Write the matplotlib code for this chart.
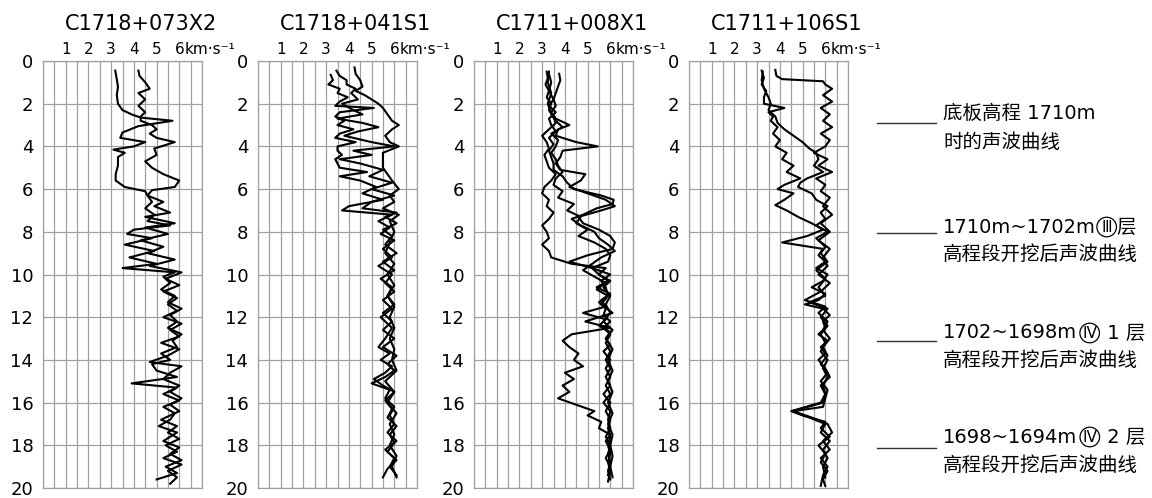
import numpy as np
import matplotlib.pyplot as plt
import matplotlib.transforms as mtransforms
from matplotlib.lines import Line2D

plt.rcParams['font.family'] = ['DejaVu Sans', 'Noto Sans CJK SC']

titles = ['C1718+073X2', 'C1718+041S1', 'C1711+008X1', 'C1711+106S1']
x_ticks = [1, 2, 3, 4, 5, 6]
y_ticks = [0, 2, 4, 6, 8, 10, 12, 14, 16, 18, 20]

# 孔 C1718+073X2
p1_d1 = [0.45, 0.8, 1.2, 1.6, 2.0, 2.3, 2.5, 2.65, 2.8, 3.05, 3.35, 3.6, 3.8, 4.0, 4.15, 4.3, 4.5, 4.9, 5.3, 5.6,
         5.9, 6.1, 6.3, 6.6, 6.9, 7.2, 7.5, 7.7, 7.9, 8.1, 8.3, 8.6, 8.9, 9.2, 9.5, 9.7, 9.9, 10.1, 10.4, 10.7,
         11.0, 11.3, 11.6, 11.9, 12.2, 12.5, 12.8, 13.1, 13.4, 13.7, 14.0, 14.2, 14.5, 14.8, 15.1, 15.3, 15.6,
         15.9, 16.2, 16.5, 16.8, 17.1, 17.4, 17.8, 18.1, 18.4, 18.7, 19.0, 19.3, 19.6]
p1_v1 = [3.18, 3.24, 3.3, 3.25, 3.3, 3.5, 3.9, 4.3, 5.7, 4.2, 3.5, 3.4, 4.5, 4.0, 3.1, 3.6, 3.3, 3.3, 3.2, 3.2,
         3.6, 4.5, 4.6, 4.8, 4.5, 4.9, 4.6, 5.6, 4.0, 3.7, 4.8, 3.6, 4.9, 3.8, 5.0, 3.5, 5.8, 5.3, 5.6, 5.2,
         5.8, 5.5, 6.1, 5.6, 5.9, 5.5, 6.1, 5.7, 5.9, 5.2, 5.6, 4.8, 5.0, 5.9, 3.9, 5.9, 5.3,
         6.0, 5.3, 5.8, 5.6, 5.1, 5.9, 5.3, 6.0, 5.6, 6.1, 5.4, 5.9, 5.0]
p1_d2 = [0.45, 0.7, 1.0, 1.3, 1.5, 1.8, 2.1, 2.4, 2.6, 2.8, 3.0, 3.2, 3.4, 3.6, 3.8, 4.1, 4.4, 4.7, 5.0, 5.3,
         5.6, 5.9, 6.05, 6.3, 6.6, 6.8, 7.1, 7.3, 7.6, 7.8, 8.1, 8.4, 8.7, 9.0, 9.3, 9.6, 9.9, 10.2, 10.5, 10.8,
         11.1, 11.4, 11.7, 12.0, 12.3, 12.6, 12.9, 13.2, 13.5, 13.8, 14.1, 14.3, 14.6, 14.9, 15.2, 15.5, 15.8,
         16.1, 16.4, 16.8, 17.1, 17.4, 17.7, 18.0, 18.3, 18.6, 18.9, 19.2, 19.5, 19.8]
p1_v2 = [4.2, 4.25, 4.5, 4.7, 4.2, 4.5, 4.2, 4.5, 4.3, 4.3, 4.8, 5.0, 4.7, 5.0, 5.8, 4.9, 5.0, 4.5, 4.8, 5.3,
         6.0, 5.8, 4.8, 4.6, 5.3, 4.9, 5.6, 4.5, 5.8, 4.5, 5.5, 4.3, 5.3, 4.6, 5.8, 4.7, 6.1, 5.4, 6.0, 5.3,
         5.9, 5.5, 5.9, 5.3, 6.1, 5.6, 6.0, 5.2, 6.0, 5.5, 4.7, 6.1, 5.6, 5.3, 6.0, 5.6, 6.1,
         5.6, 6.0, 5.2, 5.9, 5.5, 6.0, 5.4, 5.9, 5.3, 6.1, 5.5, 5.9, 5.6]

# 孔 C1718+041S1
p2_d1 = [0.65, 0.9, 1.1, 1.3, 1.5, 1.7, 1.9, 2.1, 2.2, 2.4, 2.6, 2.8, 3.0, 3.2, 3.4, 3.6, 3.8, 4.0, 4.2, 4.4,
         4.6, 4.8, 5.0, 5.2, 5.4, 5.6, 5.9, 6.2, 6.5, 6.8, 7.0, 7.2, 7.5, 7.8, 8.1, 8.4, 8.8, 9.2, 9.6, 10.0,
         10.4, 10.8, 11.2, 11.6, 12.0, 12.5, 13.0, 13.4, 13.7, 14.0, 14.3, 14.6, 14.9, 15.2, 15.5, 15.9, 16.3,
         16.7, 17.1, 17.5, 17.9, 18.3, 18.7, 19.1, 19.5]
p2_v1 = [3.2, 3.3, 3.1, 3.6, 3.5, 3.95, 3.6, 3.4, 5.1, 3.6, 3.4, 3.8, 3.5, 4.2, 3.6, 3.4, 4.3, 3.5, 3.5, 3.7,
         3.4, 3.5, 3.6, 4.8, 3.6, 4.5, 5.2, 4.6, 5.5, 4.0, 3.7, 5.9, 5.3, 5.8, 5.4, 6.0, 5.5, 5.9, 5.3, 5.9,
         5.6, 6.0, 5.5, 5.9, 5.4, 5.9, 5.6, 5.3, 5.8, 5.4, 5.9, 5.6, 5.1, 5.5, 6.0, 5.6, 5.9,
         5.7, 6.1, 5.8, 6.0, 5.7, 6.1, 5.7, 5.5]
p2_d2 = [0.45, 0.7, 0.9, 1.1, 1.3, 1.5, 1.8, 2.0, 2.3, 2.5, 2.7, 2.9, 3.1, 3.3, 3.5, 3.8, 4.0, 4.2, 4.4, 4.6,
         4.8, 5.1, 5.4, 5.7, 6.0, 6.3, 6.6, 6.9, 7.1, 7.3, 7.6, 7.9, 8.2, 8.6, 9.0, 9.4, 9.8, 10.2, 10.6, 11.0,
         11.4, 11.8, 12.2, 12.6, 13.0, 13.4, 13.8, 14.2, 14.5, 14.8, 15.1, 15.4, 15.8, 16.2, 16.6, 17.0, 17.4,
         17.8, 18.2, 18.6, 19.0, 19.4]
p2_v2 = [3.45, 3.6, 3.9, 3.9, 4.3, 4.1, 4.4, 3.7, 4.2, 4.6, 3.5, 4.6, 5.3, 4.4, 3.8, 5.0, 6.0, 4.2, 5.0, 3.6,
         4.5, 5.5, 4.9, 5.9, 5.0, 6.0, 5.0, 4.6, 6.1, 5.6, 6.1, 5.5, 5.9, 5.6, 6.1, 5.5, 6.0, 5.4, 5.9, 5.7,
         6.0, 5.5, 5.9, 5.5, 6.0, 5.5, 6.1, 5.7, 6.0, 5.6, 5.0, 5.8, 5.6, 6.0, 5.8, 6.0, 5.7,
         6.1, 5.6, 6.0, 5.8, 6.1]
p2_d3 = [0.3, 0.6, 0.9, 1.2, 1.4, 1.6, 1.8, 2.0, 2.2, 2.5, 2.8, 3.0, 3.2, 3.5, 3.8, 4.0, 4.3, 4.6, 5.0, 5.3,
         5.6, 6.0, 6.3, 6.6, 6.9, 7.2, 7.5, 8.0, 8.5, 9.0, 9.5, 10.0, 10.5, 11.0, 11.5, 12.0, 12.5, 13.0, 13.5,
         14.0, 14.5, 15.0, 15.5, 16.0, 16.5, 17.0, 17.5, 18.0, 18.5, 19.0, 19.5]
p2_v3 = [4.25, 4.3, 4.5, 4.6, 4.3, 4.7, 5.0, 5.3, 5.5, 5.7, 5.9, 6.2, 5.9, 5.6, 5.8, 6.2, 5.5, 5.5, 5.5, 5.7,
         5.9, 6.2, 5.8, 6.0, 5.5, 6.2, 5.8, 6.0, 5.8, 5.6, 6.0, 5.7, 6.0, 5.7, 6.0, 5.8, 6.0, 5.8, 6.0,
         5.9, 6.1, 5.6, 6.0, 5.7, 6.1, 5.8, 6.0, 5.8, 6.1, 5.9, 6.1]

# 孔 C1711+008X1
p3_d1 = [0.5, 0.8, 1.1, 1.4, 1.7, 2.0, 2.3, 2.6, 2.9, 3.2, 3.5, 3.8, 4.1, 4.4, 4.7, 5.0, 5.3, 5.6, 5.9, 6.2,
         6.5, 6.8, 7.1, 7.4, 7.7, 8.0, 8.3, 8.6, 8.9, 9.2, 9.5, 9.7, 10.0, 10.3, 10.6, 10.9, 11.2, 11.5, 11.8,
         12.1, 12.4, 12.7, 13.0, 13.3, 13.6, 14.0, 14.4, 14.8, 15.2, 15.6, 16.0, 16.4, 16.8, 17.2, 17.6, 18.0,
         18.4, 18.8, 19.2, 19.6]
p3_v1 = [3.2, 3.25, 3.15, 3.3, 3.2, 3.4, 3.3, 3.5, 3.6, 3.3, 3.0, 3.2, 3.3, 3.1, 3.2, 3.3, 3.6, 3.4, 3.1, 3.0,
         3.3, 3.2, 3.5, 3.3, 3.0, 3.2, 3.3, 3.0, 3.3, 3.4, 4.3, 5.8, 5.5, 5.9, 5.4, 6.0, 5.6, 5.8, 4.8,
         5.8, 5.5, 6.0, 5.8, 6.0, 5.7, 6.0, 5.8, 6.0, 5.8, 6.0, 5.7, 6.0, 5.9, 6.0, 5.8, 6.0,
         5.9, 6.0, 5.9, 6.0]
p3_d2 = [0.6, 0.9, 1.2, 1.5, 1.8, 2.1, 2.4, 2.7, 3.0, 3.2, 3.5, 3.8, 4.0, 4.2, 4.5, 4.8, 5.1, 5.3, 5.6, 5.9,
         6.2, 6.5, 6.8, 7.0, 7.3, 7.6, 7.9, 8.2, 8.5, 8.8, 9.1, 9.4, 9.7, 10.0, 10.3, 10.6, 11.0, 11.4, 11.8,
         12.2, 12.5, 12.8, 13.1, 13.4, 13.7, 14.0, 14.3, 14.6, 14.9, 15.2, 15.5, 15.8, 16.1, 16.4, 16.6, 16.9,
         17.2, 17.5, 17.8, 18.2, 18.6, 19.0, 19.4]
p3_v2 = [3.75, 3.8, 3.7, 3.6, 3.5, 3.6, 3.4, 3.6, 4.2, 3.7, 3.6, 4.5, 5.45, 3.9, 3.8, 3.6, 3.8, 4.9, 4.7, 4.2,
         5.0, 5.8, 6.2, 5.6, 4.6, 4.8, 5.5, 6.0, 6.2, 6.1, 5.0, 4.2, 5.2, 6.0, 5.6, 5.8, 5.9, 5.6, 6.1,
         4.9, 6.0, 4.3, 3.9, 4.2, 4.6, 4.4, 4.8, 4.0, 4.4, 3.9, 4.2, 3.7, 4.5, 5.3, 5.0, 5.6,
         5.5, 6.0, 5.8, 6.0, 5.8, 6.0, 5.9]
p3_d3 = [0.6, 1.0, 1.4, 1.8, 2.1, 2.4, 2.7, 3.0, 3.3, 3.6, 3.9, 4.2, 4.5, 4.8, 5.1, 5.4, 5.7, 6.0, 6.3, 6.5,
         6.7, 6.9, 7.2, 7.4, 7.7, 8.0, 8.3, 8.6, 8.9, 9.2, 9.5, 9.8, 10.1, 10.4, 10.7, 11.0, 11.3, 11.6, 11.9,
         12.2, 12.5, 12.8, 13.2, 13.6, 14.0, 14.4, 14.8, 15.2, 15.6, 16.0, 16.4, 16.8, 17.2, 17.6, 18.0, 18.4,
         18.8, 19.2, 19.7]
p3_v3 = [3.3, 3.4, 3.3, 3.5, 3.3, 3.6, 3.3, 3.4, 3.6, 3.3, 3.5, 3.3, 3.4, 3.5, 3.5, 3.9, 4.1, 4.4, 5.6, 6.15,
         6.1, 5.4, 4.8, 4.3, 4.7, 5.3, 5.5, 5.9, 6.2, 5.6, 5.2, 4.8, 5.3, 5.8, 5.4, 5.9, 5.5, 5.8, 5.7,
         6.0, 5.7, 6.0, 5.8, 6.0, 5.8, 6.0, 5.8, 6.0, 5.7, 6.0, 5.8, 6.0, 5.9, 6.0, 5.9, 6.0,
         5.9, 6.0, 5.9]
p3_d4 = [0.5, 1.0, 1.5, 2.0, 2.5, 2.8, 3.1, 3.4, 3.7, 4.0, 4.3, 4.6, 4.9, 5.2, 5.5, 5.8, 6.1, 6.4, 6.7, 7.0,
         7.3, 7.6, 7.9, 8.2, 8.5, 8.8, 9.1, 9.4, 9.7, 10.0, 10.3, 10.6, 11.0, 11.4, 11.8, 12.2, 12.6, 13.0,
         13.5, 14.0, 14.5, 15.0, 15.5, 16.0, 16.5, 17.0, 17.5, 18.0, 18.5, 19.0, 19.5]
p3_v4 = [3.3, 3.25, 3.4, 3.25, 3.4, 3.6, 3.9, 3.4, 3.7, 3.6, 3.4, 3.6, 3.7, 3.9, 3.6, 3.5, 3.9, 3.7, 4.4, 4.1,
         4.7, 4.5, 5.0, 4.6, 5.3, 5.8, 6.0, 5.9, 5.2, 5.5, 6.0, 5.7, 6.0, 5.8, 6.0, 5.7, 6.1, 5.8,
         6.1, 5.9, 6.1, 5.9, 6.1, 5.9, 6.1, 5.9, 6.1, 6.0, 6.1, 6.0, 6.1]

# 孔 C1711+106S1
p4_d1 = [0.45, 0.8, 1.1, 1.4, 1.7, 2.0, 2.2, 2.4, 2.6, 2.8, 3.1, 3.4, 3.7, 4.0, 4.3, 4.6, 4.9, 5.2, 5.5, 5.8,
         6.0, 6.2, 6.5, 6.75, 7.0, 7.3, 7.6, 7.9, 8.2, 8.5, 8.8, 9.1, 9.4, 9.7, 10.0, 10.3, 10.6, 10.9, 11.2,
         11.4, 11.6, 11.9, 12.2, 12.5, 12.8, 13.1, 13.4, 13.7, 14.0, 14.4, 14.8, 15.2, 15.6, 16.0, 16.4, 16.6,
         16.9, 17.2, 17.6, 18.0, 18.4, 18.8, 19.2, 19.6, 19.9]
p4_v1 = [3.2, 3.3, 3.2, 3.4, 3.3, 3.3, 4.2, 3.5, 3.7, 3.6, 3.9, 3.7, 4.0, 3.8, 4.3, 4.1, 4.6, 4.3, 4.9, 4.2,
         3.9, 4.6, 4.2, 3.8, 4.3, 4.8, 5.4, 5.9, 5.2, 4.1, 5.9, 5.7, 6.0, 5.6, 6.1, 5.9, 5.4, 6.0, 5.7,
         5.1, 5.9, 6.2, 5.9, 6.0, 5.7, 6.1, 5.8, 6.0, 5.7, 6.0, 6.2, 5.8, 6.0, 5.9, 4.55, 5.0,
         6.0, 5.8, 6.2, 5.7, 6.0, 5.8, 6.1, 5.9, 6.0]
p4_d2 = [0.42, 0.7, 0.85, 0.95, 1.1, 1.3, 1.6, 1.9, 2.2, 2.5, 2.8, 3.1, 3.4, 3.7, 4.0, 4.3, 4.6, 4.9, 5.2, 5.5,
         5.8, 6.1, 6.4, 6.8, 7.2, 7.6, 8.0, 8.4, 8.8, 9.2, 9.6, 10.0, 10.4, 10.8, 11.2, 11.5, 11.8, 12.2, 12.6,
         13.0, 13.4, 13.8, 14.2, 14.6, 15.0, 15.4, 15.8, 16.2, 16.4, 16.7, 17.0, 17.4, 17.8, 18.2, 18.6, 19.0,
         19.4, 19.9]
p4_v2 = [3.8, 3.85, 4.1, 5.9, 6.0, 6.3, 5.9, 6.3, 5.8, 6.2, 5.9, 6.3, 5.8, 6.2, 6.0, 5.5, 6.1, 5.7, 6.3, 5.6,
         6.0, 5.8, 6.2, 5.9, 6.3, 5.8, 6.2, 5.7, 6.2, 5.9, 6.1, 5.7, 6.2, 5.8, 5.1, 6.0, 5.7, 6.1, 5.9,
         6.2, 5.9, 6.1, 5.8, 6.1, 5.8, 6.1, 6.0, 5.9, 4.6, 5.4, 6.1, 6.3, 5.9, 6.2, 5.8, 6.1,
         5.9, 5.8]
p4_d3 = [0.5, 0.9, 1.3, 1.7, 2.0, 2.3, 2.6, 2.9, 3.2, 3.5, 3.8, 4.1, 4.3, 4.6, 4.9, 5.2, 5.5, 5.7, 5.9, 6.2,
         6.5, 6.8, 7.1, 7.4, 7.7, 8.0, 8.3, 8.7, 9.0, 9.4, 9.8, 10.2, 10.6, 11.0, 11.3, 11.6, 12.0, 12.4,
         12.8, 13.2, 13.6, 14.0, 14.4, 14.8, 15.2, 15.6, 16.0, 16.4, 16.7, 17.0, 17.4, 17.8, 18.2, 18.6, 19.0,
         19.5]
p4_v3 = [3.25, 3.2, 3.3, 3.5, 3.6, 3.5, 3.8, 3.9, 4.2, 4.6, 5.0, 5.3, 5.6, 5.7, 5.5, 5.9, 5.2, 4.9, 4.8, 5.4,
         5.6, 6.1, 5.8, 6.0, 5.6, 6.1, 5.6, 6.0, 5.8, 6.1, 5.6, 6.0, 5.7, 6.0, 5.3, 6.1, 5.8, 6.1,
         5.8, 6.0, 5.8, 6.1, 5.9, 6.1, 5.9, 6.0, 5.8, 4.5, 5.3, 6.0, 5.8, 6.2, 5.9, 6.1, 5.9,
         6.0]

panels = [
    [(p1_d1, p1_v1), (p1_d2, p1_v2)],
    [(p2_d1, p2_v1), (p2_d2, p2_v2), (p2_d3, p2_v3)],
    [(p3_d1, p3_v1), (p3_d2, p3_v2), (p3_d3, p3_v3), (p3_d4, p3_v4)],
    [(p4_d1, p4_v1), (p4_d2, p4_v2), (p4_d3, p4_v3)],
]

# 图例文字: (前半, 圈号, 后半, 第二行)
legend_items = [
    ('底板高程 1710m', '', '', '时的声波曲线'),
    ('1710m~1702m', 'Ⅲ', '层', '高程段开挖后声波曲线'),
    ('1702~1698m', 'Ⅳ', ' 1 层', '高程段开挖后声波曲线'),
    ('1698~1694m', 'Ⅳ', ' 2 层', '高程段开挖后声波曲线'),
]

fig = plt.figure(figsize=(11.52, 4.98), dpi=100)

lefts = [43, 258, 474, 689]
grid_c = '#a0a0a0'
for left, title, curves in zip(lefts, titles, panels):
    ax = fig.add_axes([left / 1152, 10 / 498, 159 / 1152, 427 / 498])
    for d, v in curves:
        ax.plot(v, d, color='black', lw=1.5)
    ax.set_xlim(0, 7)
    ax.set_ylim(20, 0)
    ax.set_xticks(x_ticks)
    ax.set_xticks(np.arange(0, 7.01, 0.5), minor=True)
    ax.set_yticks(y_ticks)
    ax.xaxis.tick_top()
    ax.tick_params(axis='x', which='both', length=0, pad=3, labelsize=11)
    ax.tick_params(axis='y', length=0, pad=7, labelsize=13)
    ax.grid(True, which='both', axis='x', color=grid_c, lw=0.9)
    ax.grid(True, which='major', axis='y', color=grid_c, lw=0.9)
    for s in ax.spines.values():
        s.set_color(grid_c)
        s.set_linewidth(0.9)
    trans = mtransforms.blended_transform_factory(ax.transData, ax.transAxes)
    ax.text(4.3, 1.087, title, transform=trans, ha='center', va='center', fontsize=15)
    ax.text(6.25, 1.0 + 4 / 427, 'km·s⁻¹', transform=trans, ha='left', va='bottom', fontsize=11)

line_y = [123, 233, 341, 448]
text_y1 = [113, 227, 333, 437]
text_y2 = [142, 254, 360, 465]
for (a, circ, b, second), ly, t1, t2 in zip(legend_items, line_y, text_y1, text_y2):
    fig.add_artist(Line2D([877 / 1152, 936 / 1152], [1 - ly / 498, 1 - ly / 498], color='#333333', lw=1.0))
    txt = fig.text(943 / 1152, 1 - t1 / 498, a, ha='left', va='center', fontsize=14)
    if circ:
        ann = fig.add_artist(plt.Annotation(circ, xy=(1, 0.5), xycoords=txt, xytext=(4, 0),
                                            textcoords='offset points', ha='left', va='center', fontsize=11,
                                            bbox=dict(boxstyle='circle,pad=0.15', fc='none', ec='black', lw=0.9)))
        fig.add_artist(plt.Annotation(b, xy=(1, 0.5), xycoords=ann, xytext=(3, 0),
                                      textcoords='offset points', ha='left', va='center', fontsize=14))
    fig.text(943 / 1152, 1 - t2 / 498, second, ha='left', va='center', fontsize=14)

fig.savefig('out.png', dpi=100)
